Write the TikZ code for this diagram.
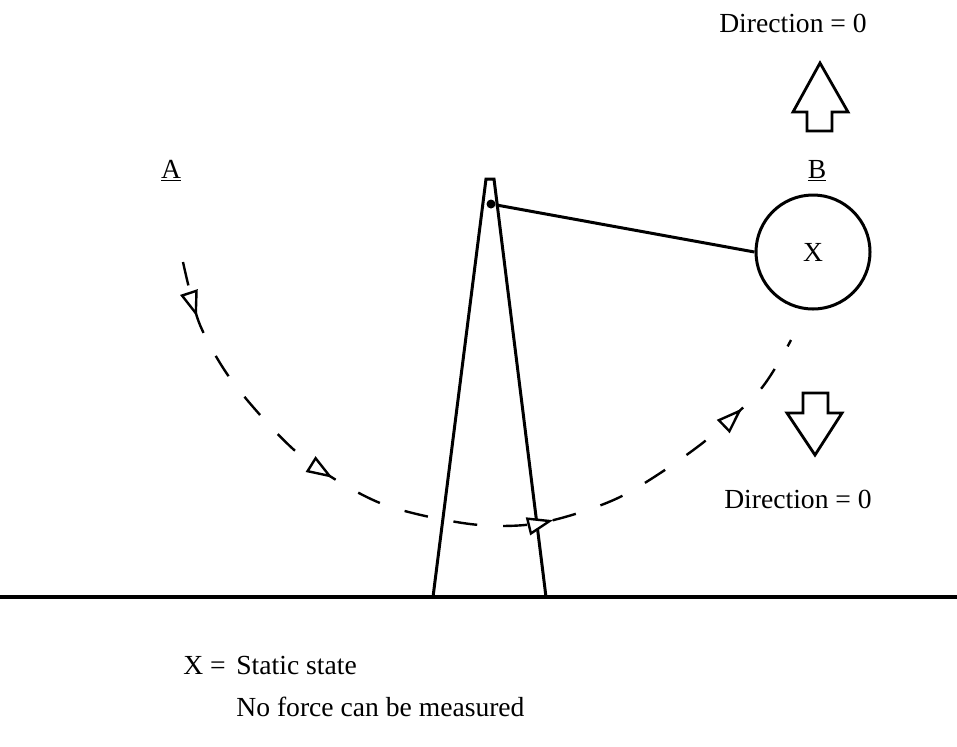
\documentclass[tikz,border=0pt]{standalone}
\usepackage{fontspec}
\setmainfont{Liberation Serif}
\usetikzlibrary{arrows.meta,positioning,decorations.markings}
\tikzset{
  ln/.style={line width=1.5pt},
  txt/.style={font=\fontsize{13.8}{16}\selectfont, inner sep=0pt},
  dot/.style={circle, fill, inner sep=0pt, minimum size=4.5pt},
  bob/.style={circle, draw, line width=1.5pt, minimum size=57pt, font=\fontsize{13.8}{16}\selectfont},
  blockarr/.style={line width=1.4pt, line join=miter},
  opentip/.tip={Triangle[fill=white, length=13pt, width=9pt]},
  swing/.style={line width=1.2pt, dash pattern=on 12pt off 13pt, postaction={decorate},
    decoration={markings,
      mark=at position 0.07 with {\arrow{opentip}},
      mark=at position 0.335 with {\arrow{opentip}},
      mark=at position 0.62 with {\arrow{opentip}},
      mark=at position 0.895 with {\arrow{opentip}}}},
}

\begin{document}
\begin{tikzpicture}[x=0.5pt, y=-0.5pt]
  \useasboundingbox (0,0) rectangle (957,746);
  \draw[ln, line width=1.7pt] (0,597) -- (957,597);
  \draw[ln, line join=miter] (433,597) -- (486,179) -- (494,179) -- (546,597);
  \node[dot] (pivot) at (491,204) {};
  \node[bob] (ball) at (813,252) {X};
  \draw[ln] (pivot) -- (ball.west);

  \node[txt, anchor=base] (lblA) at (171,178) {\underline{A}};
  \node[txt, anchor=base] (lblB) at (817,178) {\underline{B}};

  \draw[swing] plot[smooth] coordinates {(183,262) (200,325) (235,385) (300,455) (380,503)
    (470,524) (540,523) (620,497) (700,445) (760,390) (791,340)};

  \draw[blockarr] (820,63) -- (848,112) -- (832,112) -- (832,131) -- (807,131) -- (807,112) -- (793,112) -- cycle;
  \draw[blockarr] (815,455) -- (842,413) -- (828,413) -- (828,393) -- (803,393) -- (803,413) -- (787,413) -- cycle;
  \node[txt, anchor=base] (dirup) at (793,32) {Direction = 0};
  \node[txt, anchor=base] (dirdown) at (798,508) {Direction = 0};

  \node[txt, anchor=base west] (key) at (183,674) {X =};
  \node[txt, anchor=base west] (state) at (236,674) {Static state};
  \node[txt, anchor=base west] (noforce) at (236,716) {No force can be measured};
\end{tikzpicture}
\end{document}
